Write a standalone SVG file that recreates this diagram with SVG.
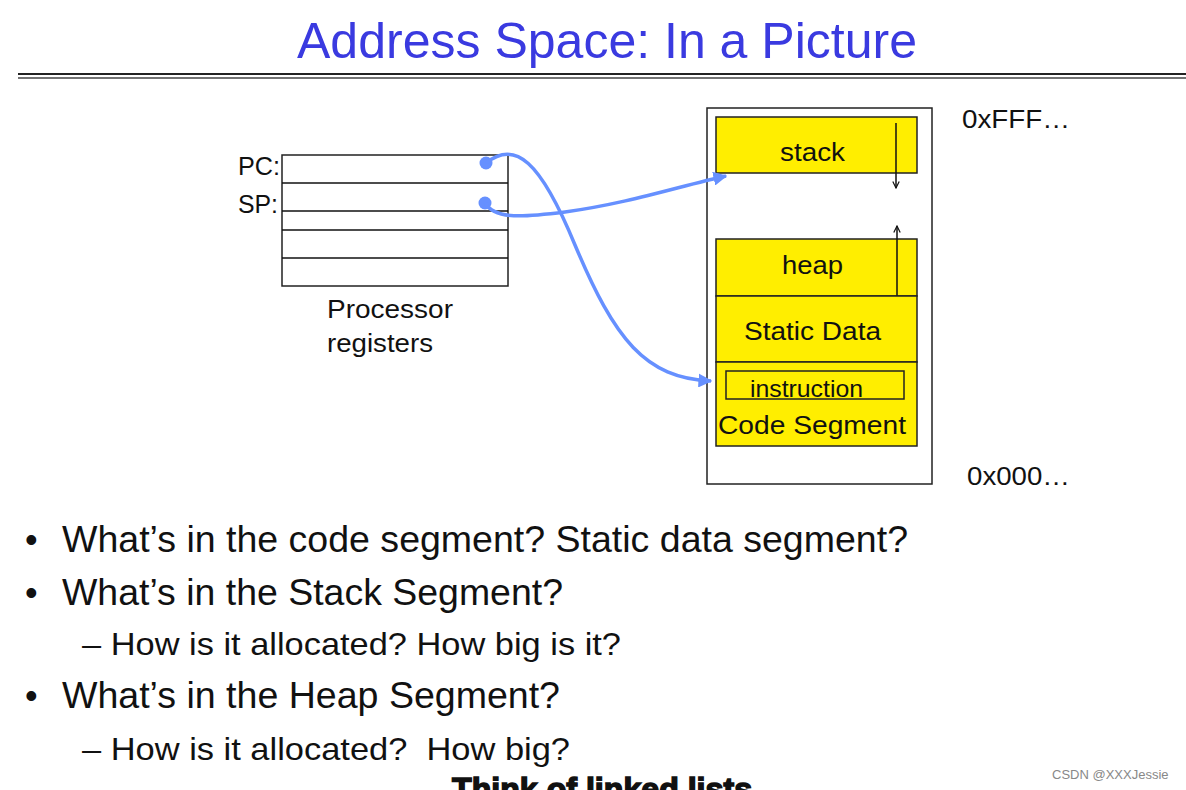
<svg xmlns="http://www.w3.org/2000/svg" width="1186" height="790" viewBox="0 0 1186 790">
<defs>
<style>
text{font-family:"Liberation Sans",Arial,sans-serif;fill:#111}
.title{font-size:50px;fill:#3a3ae0}
.seg{fill:#ffee00;stroke:#222;stroke-width:1.5}
.box{fill:#fff;stroke:#222;stroke-width:1.5}
.lbl{font-size:26px}
.bul{font-size:36px}
.sub{font-size:32px}
.conn{fill:none;stroke:#6690ff;stroke-width:3.5}
.thin{fill:none;stroke:#111;stroke-width:1.5}
</style>
<marker id="blue" viewBox="0 0 10 10" refX="9" refY="5" markerWidth="4" markerHeight="4" orient="auto" markerUnits="strokeWidth">
<path d="M0,0 L10,5 L0,10 z" fill="#6690ff"/>
</marker>
<marker id="open" viewBox="0 0 10 10" refX="9" refY="5" markerWidth="8" markerHeight="8" orient="auto" markerUnits="userSpaceOnUse">
<path d="M1,1 L9,5 L1,9" fill="none" stroke="#111" stroke-width="1.5"/>
</marker>
</defs>
<rect width="1186" height="790" fill="#fff"/>
<text class="title" x="297" y="58" textLength="620" lengthAdjust="spacingAndGlyphs">Address Space: In a Picture</text>
<line x1="18" y1="74" x2="1186" y2="74" stroke="#222" stroke-width="2"/>
<line x1="18" y1="78" x2="1186" y2="78" stroke="#444" stroke-width="1.5"/>

<g id="registers">
<rect class="box" x="282" y="155" width="226" height="131"/>
<line class="thin" x1="282" y1="183" x2="508" y2="183"/>
<line class="thin" x1="282" y1="211" x2="508" y2="211"/>
<line class="thin" x1="282" y1="230" x2="508" y2="230"/>
<line class="thin" x1="282" y1="258" x2="508" y2="258"/>
<text class="lbl" x="238" y="175" textLength="42" lengthAdjust="spacingAndGlyphs">PC:</text>
<text class="lbl" x="238" y="213" textLength="40" lengthAdjust="spacingAndGlyphs">SP:</text>
<text class="lbl" x="327" y="318" textLength="126" lengthAdjust="spacingAndGlyphs">Processor</text>
<text class="lbl" x="327" y="352" textLength="106" lengthAdjust="spacingAndGlyphs">registers</text>
<circle cx="486" cy="163" r="6.5" fill="#6690ff"/>
<circle cx="485" cy="203" r="6.5" fill="#6690ff"/>
</g>

<g id="memory">
<rect class="box" x="707" y="108" width="225" height="376"/>
<text class="lbl" x="962" y="128" textLength="108" lengthAdjust="spacingAndGlyphs">0xFFF…</text>
<text class="lbl" x="967" y="485" textLength="103" lengthAdjust="spacingAndGlyphs">0x000…</text>
</g>
<g id="stack">
<rect class="seg" x="716" y="117" width="201" height="56"/>
<text class="lbl" x="780" y="161" textLength="65" lengthAdjust="spacingAndGlyphs">stack</text>
<line class="thin" x1="896" y1="123" x2="896" y2="188" marker-end="url(#open)"/>
</g>
<g id="heap">
<rect class="seg" x="716" y="239" width="201" height="57"/>
<text class="lbl" x="782" y="274" textLength="61" lengthAdjust="spacingAndGlyphs">heap</text>
<line class="thin" x1="897" y1="296" x2="897" y2="226" marker-end="url(#open)"/>
</g>
<g id="static">
<rect class="seg" x="716" y="296" width="201" height="66"/>
<text class="lbl" x="744" y="340" textLength="137" lengthAdjust="spacingAndGlyphs">Static Data</text>
</g>
<g id="code">
<rect class="seg" x="716" y="362" width="201" height="84"/>
<rect x="726" y="371" width="178" height="28" fill="none" stroke="#222" stroke-width="1.5"/>
<text x="750" y="397" font-size="24" textLength="113" lengthAdjust="spacingAndGlyphs">instruction</text>
<text class="lbl" x="718" y="434" textLength="188" lengthAdjust="spacingAndGlyphs">Code Segment</text>
</g>

<g id="connectors">
<path class="conn" d="M486,163 C515,140 540,160 575,245 C615,340 645,378 711,381" marker-end="url(#blue)"/>
<path class="conn" d="M485,203 C495,220 525,217 565,212 C630,203 680,186 726,176" marker-end="url(#blue)"/>
</g>

<g id="bullets">
<text class="bul" x="25" y="552">•</text>
<text class="bul" x="62" y="552" textLength="846" lengthAdjust="spacingAndGlyphs">What’s in the code segment? Static data segment?</text>
<text class="bul" x="25" y="605">•</text>
<text class="bul" x="62" y="605" textLength="501" lengthAdjust="spacingAndGlyphs">What’s in the Stack Segment?</text>
<text class="sub" x="82" y="655" textLength="539" lengthAdjust="spacingAndGlyphs">– How is it allocated? How big is it?</text>
<text class="bul" x="25" y="708">•</text>
<text class="bul" x="62" y="708" textLength="498" lengthAdjust="spacingAndGlyphs">What’s in the Heap Segment?</text>
<text class="sub" x="82" y="760" textLength="488" lengthAdjust="spacingAndGlyphs">– How is it allocated?&#160; How big?</text>
</g>
<text x="452" y="800" font-size="32" font-weight="bold" textLength="300" lengthAdjust="spacingAndGlyphs" style="fill:#111;stroke:#111;stroke-width:1.5">Think of linked lists</text>
<text x="1052" y="779" font-size="13" style="fill:#888">CSDN @XXXJessie</text>
</svg>
